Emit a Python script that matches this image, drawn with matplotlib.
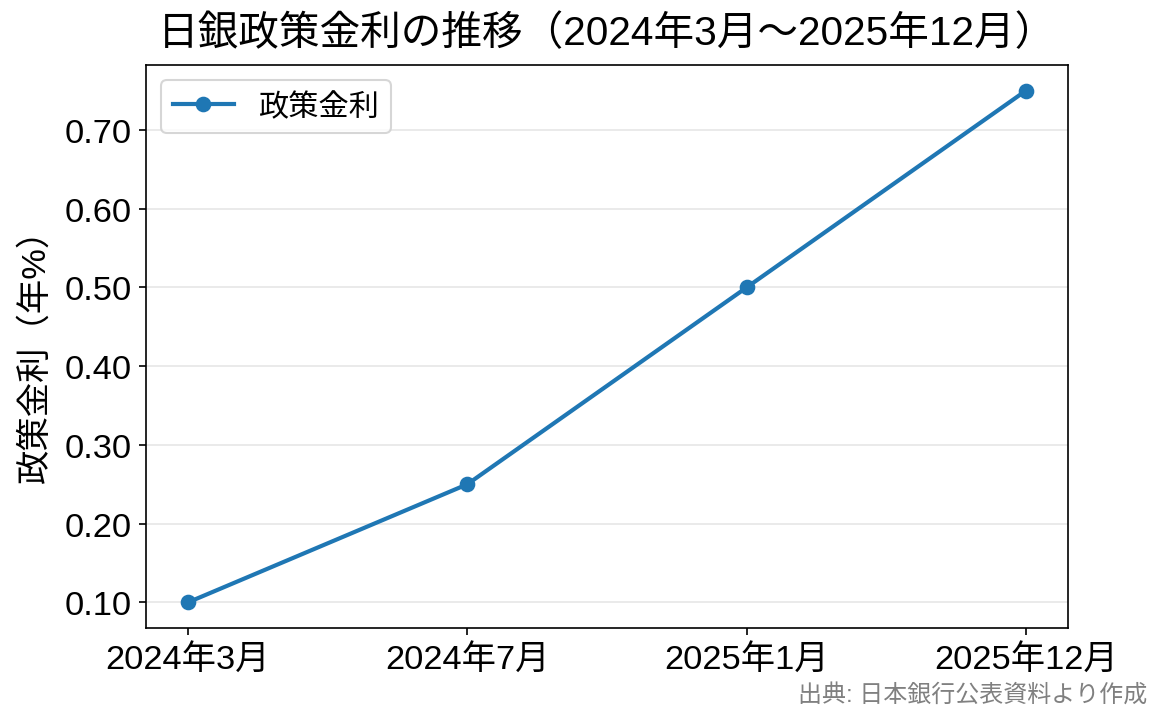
import matplotlib
matplotlib.use("Agg")
import matplotlib.pyplot as plt
from matplotlib.ticker import FormatStrFormatter

# Latin glyphs from Liberation Sans, kanji from Noto CJK
plt.rcParams['font.family'] = ['Liberation Sans', 'Noto Sans CJK JP', 'DejaVu Sans']

months = ["2024年3月", "2024年7月", "2025年1月", "2025年12月"]
rates = [0.10, 0.25, 0.50, 0.75]
yticks = [0.1, 0.2, 0.3, 0.4, 0.5, 0.6, 0.7]

fig, ax = plt.subplots(figsize=(7.766, 4.833), dpi=150)
ax.plot(months, rates, marker='o', color='#1f77b4', linewidth=2, markersize=6.5, label='政策金利')

ax.set_title('日銀政策金利の推移（2024年3月〜2025年12月）', fontsize=19.5, pad=10)
ax.set_ylabel('政策金利（年%）', fontsize=16.5, labelpad=6)
ax.yaxis.set_major_formatter(FormatStrFormatter('%.2f'))
ax.set_yticks(yticks)
ax.tick_params(labelsize=16.5)
ax.grid(axis='y', color='#e6e6e6', linewidth=0.8)
ax.set_axisbelow(True)
ax.legend(loc='upper left', fontsize=14.5)

fig.text(0.985, 0.025, '出典: 日本銀行公表資料より作成', ha='right', va='bottom', fontsize=11.5, color='gray')

fig.subplots_adjust(left=0.1253, right=0.9167, top=0.909, bottom=0.1324)
fig.savefig('out.png', dpi=150)
